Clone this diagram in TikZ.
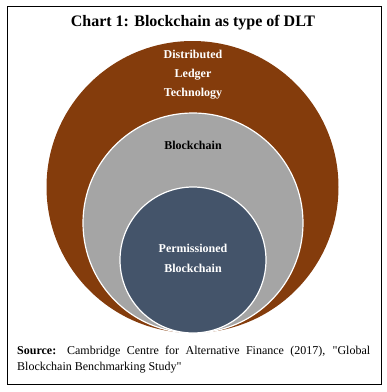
\documentclass[tikz,border=0pt]{standalone}
\usepackage{fontspec}
\setmainfont{Liberation Serif}
\definecolor{dltbrown}{RGB}{132,60,12}
\definecolor{bcgray}{RGB}{165,165,165}
\definecolor{pbblue}{RGB}{68,84,106}
\begin{document}
\begin{tikzpicture}[x=1pt,y=-1pt,
  ring/.style={draw=white,line width=1.2pt},
  lbl/.style={font=\fontsize{12}{19}\selectfont\bfseries,align=center,inner sep=0pt}]
\useasboundingbox (0,0) rectangle (387,392);
\draw[line width=1pt] (7,6) rectangle (381,384);
\node[font=\fontsize{16}{19}\selectfont\bfseries] (title) at (193,23) {Chart 1: Blockchain as type of DLT};
\fill[dltbrown] (192.5,187) circle[radius=146];
\filldraw[fill=bcgray,ring] (193,223) circle[radius=110];
\filldraw[fill=pbblue,ring] (193,260) circle[radius=73];
\node[lbl,text=white] (dlt) at (193,75) {Distributed\\Ledger\\Technology};
\node[lbl,text=black] (bc) at (193,145) {Blockchain};
\node[lbl,text=white,font=\fontsize{12}{20}\selectfont\bfseries] (pb) at (193,258) {Permissioned\\Blockchain};
\node[anchor=north west,inner sep=0pt,text width=353pt,align=justify,font=\fontsize{12}{16}\selectfont] (src) at (17,346)
  {\hyphenpenalty=10000\textbf{Source:} Cambridge Centre for Alternative Finance (2017), \textquotedbl Global Blockchain Benchmarking Study\textquotedbl};
\end{tikzpicture}
\end{document}
